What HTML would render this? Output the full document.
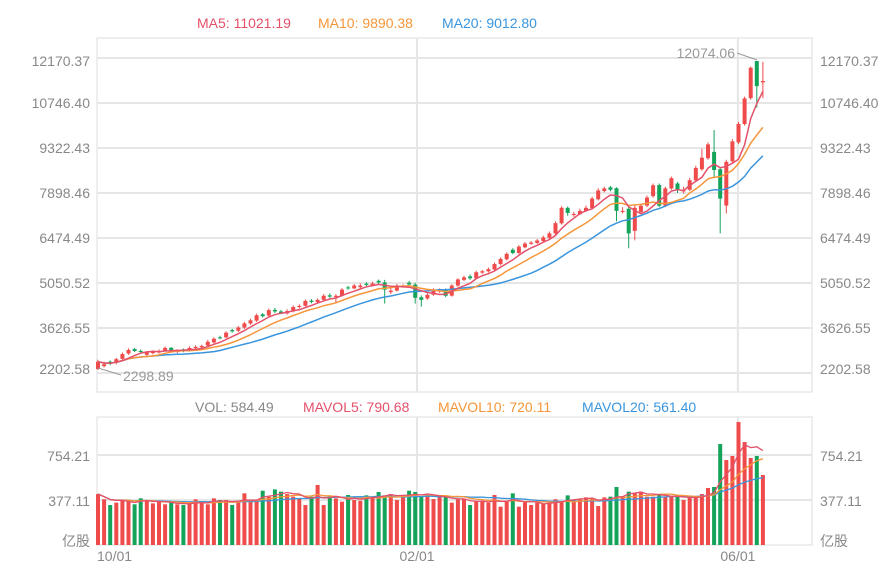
<!DOCTYPE html>
<html><head><meta charset="utf-8">
<style>
html,body{margin:0;padding:0;background:#fff;}
svg{display:block;font-family:"Liberation Sans","Noto Sans CJK SC",sans-serif;}
</style></head>
<body>
<svg id="chart" width="886" height="582" viewBox="0 0 886 582" xmlns="http://www.w3.org/2000/svg">
<g id="legend" font-size="14">
<text x="197" y="28" fill="#e4506a">MA5: 11021.19</text>
<text x="318" y="28" fill="#f5963a">MA10: 9890.38</text>
<text x="442" y="28" fill="#3a95dd">MA20: 9012.80</text>
<text x="195" y="412" fill="#888">VOL: 584.49</text>
<text x="303" y="412" fill="#e4506a">MAVOL5: 790.68</text>
<text x="438" y="412" fill="#f5963a">MAVOL10: 720.11</text>
<text x="582" y="412" fill="#3a95dd">MAVOL20: 561.40</text>
</g>
<g id="grid"></g>
<g id="candles"></g>
<g id="malines"></g>
<g id="vols"></g>
<g id="labels" font-size="14" fill="#888"></g>
<g>
<line x1="737" y1="53" x2="757" y2="60" stroke="#999" stroke-width="1"/>
<text x="735" y="58" text-anchor="end" font-size="14" fill="#999">12074.06</text>
</g>
<g>
<line x1="98" y1="368" x2="121" y2="375" stroke="#999" stroke-width="1"/>
<text x="123" y="381" font-size="14" fill="#999">2298.89</text>
</g>
</svg>
<script>
const opens=[2330,2420,2560,2520,2650,2820,2960,2900,2780,2830,2850,2900,3000,2870,2950,2910,2990,3020,3070,3170,3330,3330,3560,3540,3640,3770,3860,4060,4020,4200,4150,4090,4150,4290,4330,4490,4450,4520,4660,4610,4650,4910,4880,4920,5030,4980,5120,5070,4760,4810,4940,5060,5000,4600,4560,4680,4780,4830,4650,4970,5150,5261,5200,5380,5420,5480,5650,5800,6103,6000,6180,6290,6320,6380,6480,6620,6940,7430,7200,7230,7330,7420,7700,7960,8077,8050,7300,7400,6700,7300,7500,7800,8150,7500,8040,8200,7950,8000,8300,8650,9000,9200,8650,7500,8900,9500,10080,10900,12074,11400];
const closes=[2560,2478,2500,2640,2802,2931,2900,2866,2850,2880,2899,2996,2900,2920,2899,2996,3028,3060,3190,3287,3300,3481,3520,3643,3772,3870,4031,4000,4193,4150,4096,4161,4290,4323,4485,4450,4517,4646,4620,4646,4841,4880,4970,4970,4990,5035,5067,4841,4808,4970,4970,5002,4582,4517,4679,4841,4808,4646,4970,5164,5229,5200,5391,5423,5488,5650,5811,5973,6000,6200,6297,6330,6394,6491,6621,6944,7430,7268,7235,7333,7430,7721,7980,8045,8000,7333,7333,6621,7430,7495,7754,8142,7495,8045,8368,7980,7980,8303,8691,9015,9436,8626,7721,8885,9533,10083,10892,11863,11280,11442];
const highs=[2620,2560,2600,2680,2850,2980,3000,2950,2880,2920,2950,3040,3020,2950,2980,3050,3080,3100,3250,3330,3380,3520,3600,3690,3820,3920,4080,4100,4240,4260,4200,4220,4340,4380,4530,4540,4560,4700,4720,4700,4890,4960,5020,5040,5080,5090,5160,5150,4900,5020,5010,5120,5060,4660,4720,4880,4880,4880,5010,5200,5280,5320,5440,5460,5540,5700,5860,6020,6150,6250,6350,6380,6440,6550,6680,7000,7480,7470,7300,7400,7500,7780,8050,8100,8120,8080,7450,7450,7500,7560,7820,8200,8200,8100,8420,8250,8100,8380,8760,9300,9500,9890,8700,8950,9600,10150,10950,11900,12074,12050];
const lows=[2299,2380,2450,2480,2620,2780,2870,2820,2740,2790,2820,2880,2870,2830,2860,2880,2960,2990,3040,3140,3270,3300,3480,3500,3600,3730,3820,3960,3980,4100,4060,4050,4120,4240,4300,4410,4420,4480,4580,4400,4620,4840,4850,4880,4950,4950,5030,4400,4700,4780,4900,4960,4400,4300,4520,4650,4740,4600,4620,4930,5110,5150,5160,5340,5380,5440,5610,5760,5960,5960,6150,6260,6290,6340,6440,6580,6900,7180,7150,7200,7300,7380,7660,7920,7950,7000,7250,6150,6400,7250,7450,7750,7450,7450,8000,7900,7880,7960,8260,8600,8950,8400,6620,7250,8850,9450,10030,10850,10600,10900];
const volumes=[427,383,335,355,377,371,341,391,377,349,363,341,355,341,335,355,383,355,341,391,377,377,335,355,433,377,377,455,405,466,447,427,405,391,335,405,503,335,405,391,363,419,377,371,416,405,444,416,427,377,416,455,444,405,416,385,405,405,355,383,383,335,371,363,355,419,321,371,433,321,357,335,355,349,355,383,363,416,377,388,399,391,327,399,405,486,405,447,433,447,405,405,419,405,405,405,377,402,402,427,478,486,846,712,746,1031,863,729,746,587];
const priceTicks=[12170.37,10746.40,9322.43,7898.46,6474.49,5050.52,3626.55,2202.58];
const volTicks=[754.21,377.11];
const dateLabels=["10/01","02/01","06/01"];
const dateIndex=[0,52.3,104.9];

const NS="http://www.w3.org/2000/svg";
const L=97,R=812,PT=38,PB=392,VT=417,VB=545;
const x0=98,step=6.1;
function xAt(i){return x0+i*step;}
function yP(v){return 193-(v-7898.46)/1423.97*45;}
function yV(v){return VB-v/377.11*45;}
function mk(tag,attrs,parent){const e=document.createElementNS(NS,tag);for(const k in attrs)e.setAttribute(k,attrs[k]);parent.appendChild(e);return e;}
const RED="#f04b4b",GREEN="#13a45a";
const grid=document.getElementById('grid');
const labels=document.getElementById('labels');
let f=mk('rect',{x:L,y:PT,width:R-L,height:PB-PT,fill:'none',stroke:'#ddd','stroke-width':1},grid);


f=mk('rect',{x:L,y:VT,width:R-L,height:VB-VT,fill:'none',stroke:'#ddd','stroke-width':1},grid);


priceTicks.forEach((t,k)=>{
  const y=yP(t);
  const g=mk('line',{x1:L,x2:R,y1:y,y2:y,stroke:'#e6e6e6','stroke-width':2},grid);
  
  
  const ly=Math.min(Math.max(y,61),369)+5;
  const a=mk('text',{x:90,y:ly,'text-anchor':'end'},labels);a.textContent=t.toFixed(2);
  
  
  const b=mk('text',{x:820,y:ly},labels);b.textContent=t.toFixed(2);
  
  
});
volTicks.forEach(t=>{
  const y=yV(t);
  const g=mk('line',{x1:L,x2:R,y1:y,y2:y,stroke:'#e6e6e6','stroke-width':2},grid);
  
  
  const a=mk('text',{x:90,y:y+6,'text-anchor':'end'},labels);a.textContent=t.toFixed(2);
  
  
  const b=mk('text',{x:820,y:y+6},labels);b.textContent=t.toFixed(2);
  
  
});
[[90,'end'],[820,'start']].forEach(p=>{
  const u=mk('text',{x:p[0],y:546,'text-anchor':p[1]},labels);u.textContent='亿股';
  
  
});
dateLabels.forEach((d,k)=>{
  const x=xAt(dateIndex[k]);
  if(k>0){
    const g1=mk('line',{x1:x,x2:x,y1:PT,y2:PB,stroke:'#e6e6e6','stroke-width':2},grid);
    
    
    const g2=mk('line',{x1:x,x2:x,y1:VT,y2:VB,stroke:'#e6e6e6','stroke-width':2},grid);
    
    
  }
  const t=mk('text',{x:k==0?x-1:x,y:561,'text-anchor':k==0?'start':'middle'},labels);t.textContent=d;
  
  
});
const cg=document.getElementById('candles');
closes.forEach((c,i)=>{
  const o=opens[i],up=c>=o,col=up?RED:GREEN,x=xAt(i);
  const w=mk('line',{x1:x,x2:x,y1:yP(highs[i]),y2:yP(lows[i]),stroke:col,'stroke-width':1},cg);
  
  
  const top=yP(Math.max(o,c)),bot=yP(Math.min(o,c));
  const b=mk('rect',{x:x-2,y:top,width:4,height:Math.max(bot-top,1),fill:col},cg);
  
  
});
function ma(arr,n){return arr.map((v,i)=>{const s=arr.slice(Math.max(0,i-n+1),i+1);return s.reduce((a,b)=>a+b,0)/s.length;});}
function line(vals,yf,col,name,parent,w){
  const d=vals.map((v,i)=>(i?'L':'M')+xAt(i).toFixed(1)+' '+yf(v).toFixed(1)).join(' ');
  const p=mk('path',{d:d,fill:'none',stroke:col,'stroke-width':w},parent);
  
  
}
const mg=document.getElementById('malines');
line(ma(closes,20),yP,'#3a95dd','ma20-line',mg,1.5);
line(ma(closes,10),yP,'#f5963a','ma10-line',mg,1.5);
line(ma(closes,5),yP,'#e4506a','ma5-line',mg,1.5);
const vg=document.getElementById('vols');
volumes.forEach((v,i)=>{
  const up=closes[i]>=opens[i];
  const r=mk('rect',{x:xAt(i)-2,y:yV(v),width:4,height:VB-yV(v),fill:up?RED:GREEN},vg);
  
  
});
line(ma(volumes,20),yV,'#3a95dd','mavol20-line',vg,1.3);
line(ma(volumes,10),yV,'#f5963a','mavol10-line',vg,1.3);
line(ma(volumes,5),yV,'#e4506a','mavol5-line',vg,1.3);
</script>
</body></html>
